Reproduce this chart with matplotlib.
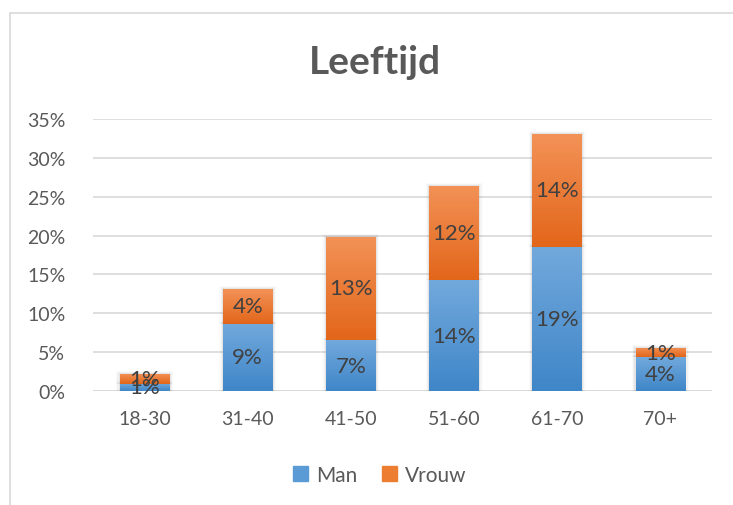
import numpy as np
import matplotlib
matplotlib.use("Agg")
import matplotlib.pyplot as plt
from matplotlib.colors import LinearSegmentedColormap
from matplotlib.patches import Rectangle, Patch

plt.rcParams["font.family"] = ["Lato", "DejaVu Sans"]

categories = ["18-30", "31-40", "41-50", "51-60", "61-70", "70+"]
man = [0.0094, 0.0865, 0.0651, 0.1422, 0.1859, 0.0433]
vrouw = [0.0129, 0.0445, 0.1337, 0.1217, 0.1449, 0.0124]

blue_top, blue_bot = "#72a9dc", "#3f86c8"
orange_top, orange_bot = "#f39257", "#e2661a"
text_grey = "#595959"
label_grey = "#404040"


def gradient_fill(ax, bars, top, bottom):
    cmap = LinearSegmentedColormap.from_list("g", [bottom, top])
    grad = np.linspace(0, 1, 256).reshape(-1, 1)
    for b in bars:
        x, y = b.get_x(), b.get_y()
        w, h = b.get_width(), b.get_height()
        # soft shadow behind the bar
        for k, a in enumerate([0.05, 0.035, 0.02]):
            d = 0.012 * (k + 1)
            ax.add_patch(Rectangle((x - d, y), w + 2 * d, h + 0.0012 * (k + 1),
                                   color="black", alpha=a, lw=0, zorder=1.5))
        im = ax.imshow(grad, cmap=cmap, aspect="auto", origin="lower",
                       extent=(x, x + w, y, y + h), zorder=3)
        im.set_clip_path(b)
        b.set_facecolor("none")


fig = plt.figure(figsize=(7.33, 5.06), dpi=100)
fig.patches.append(Rectangle((10 / 733, -0.1), 1.2, 1 - 14 / 506 + 0.1,
                             transform=fig.transFigure, fill=False,
                             edgecolor="#d9d9d9", lw=1.2))
ax = fig.add_axes([93 / 733, 1 - 392 / 506, (712 - 93) / 733, (392 - 120) / 506])

x = np.arange(len(categories))
bw = 0.48
b1 = ax.bar(x, man, bw, color=blue_bot, zorder=2, lw=0)
b2 = ax.bar(x, vrouw, bw, bottom=man, color=orange_bot, zorder=2, lw=0)
gradient_fill(ax, b2, orange_top, orange_bot)
gradient_fill(ax, b1, blue_top, blue_bot)

for i in range(len(categories)):
    ax.text(x[i], man[i] / 2, f"{man[i]:.0%}", ha="center", va="center",
            fontsize=16, color=label_grey, zorder=5)
    ax.text(x[i], man[i] + vrouw[i] / 2, f"{vrouw[i]:.0%}", ha="center",
            va="center", fontsize=16, color=label_grey, zorder=5)

ax.set_xlim(-0.5, len(categories) - 0.5)
ax.set_ylim(0, 0.35)
ax.set_yticks(np.arange(0, 0.351, 0.05))
ax.set_yticklabels([f"{v:.0%}" for v in np.arange(0, 0.351, 0.05)])
ax.set_xticks(x)
ax.set_xticklabels(categories)
ax.tick_params(axis="both", length=0, labelsize=14, labelcolor=text_grey)
ax.tick_params(axis="x", pad=14)
ax.tick_params(axis="y", pad=20)
ax.grid(axis="y", color="#d9d9d9", lw=1.2, zorder=0)
ax.set_axisbelow(True)
for s in ax.spines.values():
    s.set_visible(False)
ax.axhline(0, color="#d9d9d9", lw=1.2, zorder=1)

fig.text(375 / 733, 1 - 62 / 506, "Leeftijd", ha="center", va="center",
         fontsize=28, fontweight="bold", color=text_grey)

handles = [Patch(color="#5b9bd5", label="Man"), Patch(color="#ed7d31", label="Vrouw")]
fig.legend(handles=handles, loc="center", bbox_to_anchor=(380 / 733, 1 - 476 / 506),
           ncol=2, frameon=False, fontsize=15, labelcolor=text_grey,
           handlelength=0.7, handleheight=0.7, handletextpad=0.4, columnspacing=1.2)

fig.savefig("out.png", dpi=100)
